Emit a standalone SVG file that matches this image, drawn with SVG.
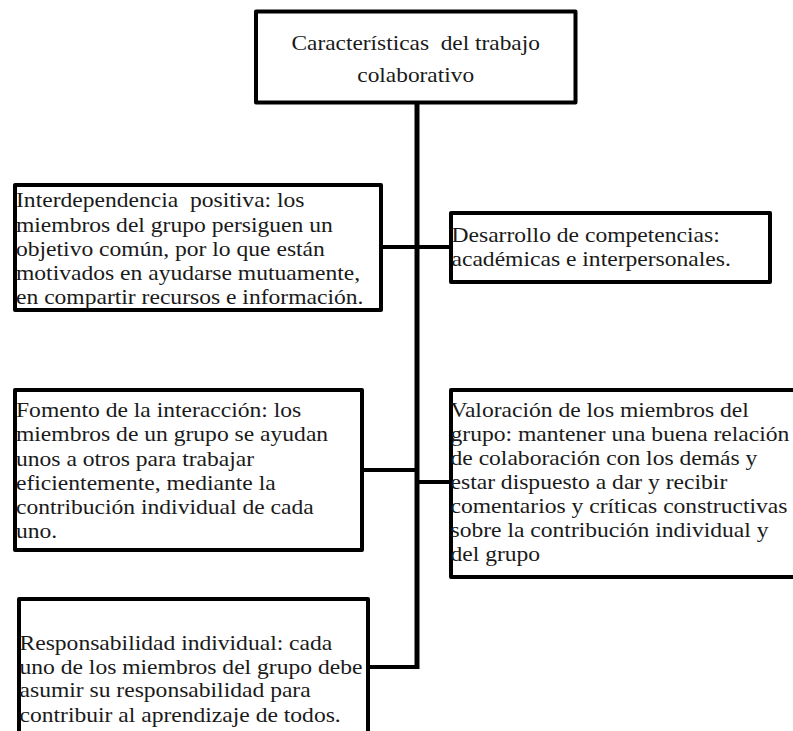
<svg xmlns="http://www.w3.org/2000/svg" width="793" height="731" viewBox="0 0 793 731">
<style>
.box{fill:#fff;stroke:#000;stroke-width:4;stroke-linejoin:round}
.conn{stroke:#000;stroke-width:4;fill:none}
.trunk{stroke:#000;stroke-width:5;fill:none}
.t{font-family:'Liberation Serif','Times New Roman',serif;font-size:20.5px;fill:#1a1a1a}
</style>
<rect width="793" height="731" fill="#fff"/>
<g id="connectors">
<line class="trunk" x1="417" y1="102" x2="417" y2="669"/>
<line class="conn" x1="381" y1="247" x2="451" y2="247"/>
<line class="conn" x1="362" y1="470" x2="417" y2="470"/>
<line class="conn" x1="417" y1="482" x2="451" y2="482"/>
<line class="conn" x1="368" y1="667" x2="419" y2="667"/>
</g>
<g id="n-title">
<rect class="box" x="256" y="11.5" width="319.5" height="91"/>
<g class="t" transform="translate(415.7,0) scale(1.14,1)">
<text x="0" y="50" text-anchor="middle" xml:space="preserve">Características  del trabajo</text>
<text x="0" y="82" text-anchor="middle">colaborativo</text>
</g>
</g>
<g id="n-interdependencia">
<rect class="box" x="15" y="185" width="366" height="125"/>
<g class="t" transform="translate(16,0) scale(1.15,1)">
<text x="0" y="207.5" xml:space="preserve">Interdependencia  positiva: los</text>
<text x="0" y="231.8">miembros del grupo persiguen un</text>
<text x="0" y="256">objetivo común, por lo que están</text>
<text x="0" y="280.2">motivados en ayudarse mutuamente,</text>
<text x="0" y="304.4">en compartir recursos e información.</text>
</g>
</g>
<g id="n-desarrollo">
<rect class="box" x="451" y="213" width="319" height="69"/>
<g class="t" transform="translate(451.5,0) scale(1.15,1)">
<text x="0" y="242.5">Desarrollo de competencias:</text>
<text x="0" y="266">académicas e interpersonales.</text>
</g>
</g>
<g id="n-fomento">
<rect class="box" x="15" y="390" width="347" height="160"/>
<g class="t" transform="translate(16,0) scale(1.15,1)">
<text x="0" y="417.3">Fomento de la interacción: los</text>
<text x="0" y="441.5">miembros de un grupo se ayudan</text>
<text x="0" y="466">unos a otros para trabajar</text>
<text x="0" y="490.2">eficientemente, mediante la</text>
<text x="0" y="514.5">contribución individual de cada</text>
<text x="0" y="538.5">uno.</text>
</g>
</g>
<g id="n-valoracion">
<rect class="box" x="451" y="390" width="360" height="187"/>
<g class="t" transform="translate(450.5,0) scale(1.15,1)">
<text x="0" y="416.7">Valoración de los miembros del</text>
<text x="0" y="441">grupo: mantener una buena relación</text>
<text x="0" y="465">de colaboración con los demás y</text>
<text x="0" y="489.3">estar dispuesto a dar y recibir</text>
<text x="0" y="513.3">comentarios y críticas constructivas</text>
<text x="0" y="537.3">sobre la contribución individual y</text>
<text x="0" y="561.3">del grupo</text>
</g>
</g>
<g id="n-responsabilidad">
<rect class="box" x="19" y="599" width="349" height="160"/>
<g class="t" transform="translate(19.5,0) scale(1.15,1)">
<text x="0" y="650">Responsabilidad individual: cada</text>
<text x="0" y="674">uno de los miembros del grupo debe</text>
<text x="0" y="697.5">asumir su responsabilidad para</text>
<text x="0" y="721.7">contribuir al aprendizaje de todos.</text>
</g>
</g>
</svg>
